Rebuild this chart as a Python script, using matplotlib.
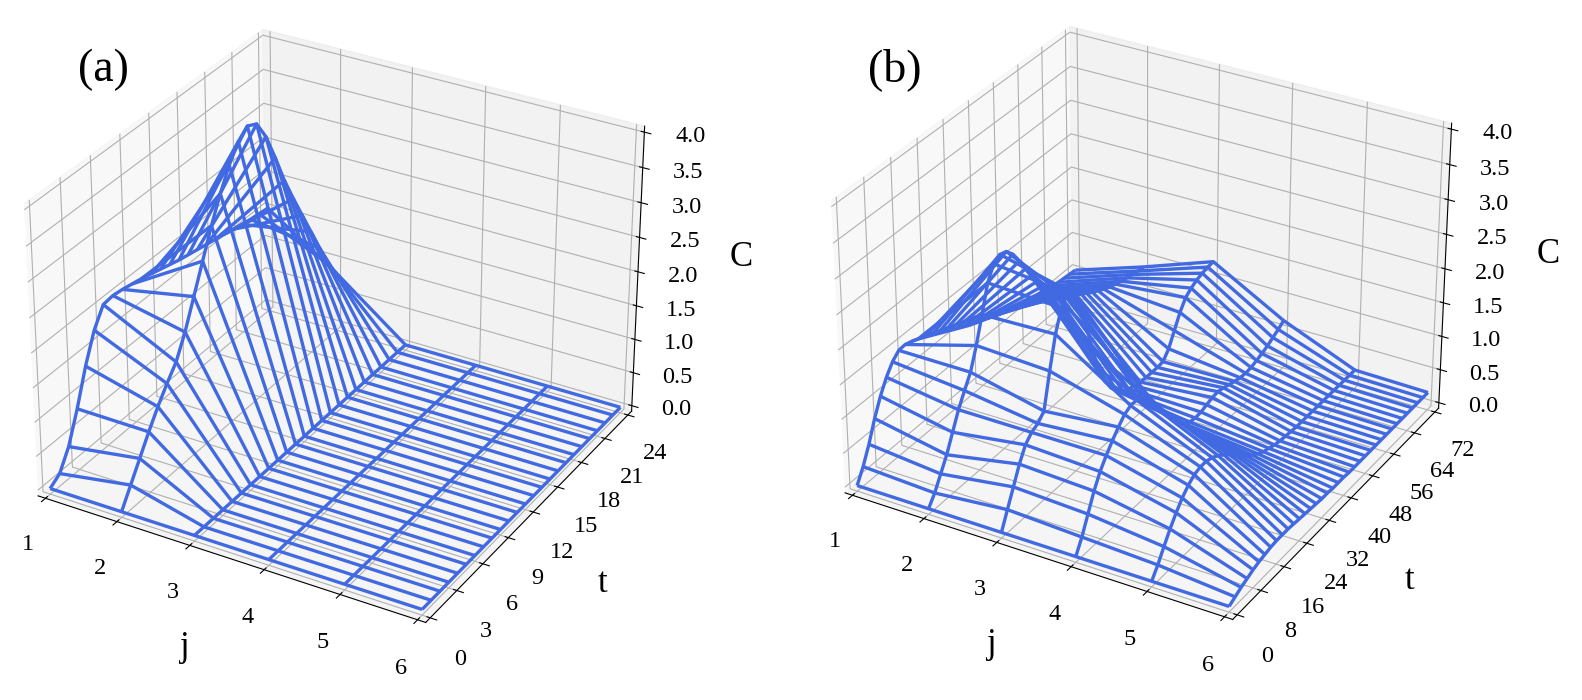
import numpy as np
import matplotlib
matplotlib.use("Agg")
import matplotlib.pyplot as plt
from matplotlib.ticker import FormatStrFormatter

plt.rcParams['font.family'] = ['Liberation Serif', 'DejaVu Serif']
plt.rcParams['axes3d.automargin'] = True

# ---------------- data ----------------
j_vals = [1, 2, 3, 4, 5, 6]

t_a = list(range(0, 25))  # 0..24
C_a_j1 = [0, 0.1, 0.38, 0.82, 1.33, 1.74, 2.0, 2.02, 2.0, 1.97, 1.94, 1.9, 1.86,
          1.82, 1.78, 1.75, 1.72, 1.69, 1.66, 1.63, 1.6, 1.57, 1.54, 1.52, 1.5]
C_a_j2 = [0, 0.27, 0.54, 0.81, 1.06, 1.28, 1.48, 1.8, 2.2, 2.6, 3.0, 3.35, 3.65,
          3.88, 4.0, 3.93, 3.65, 3.25, 2.82, 2.45, 2.1, 1.75, 1.4, 1.05, 0.8]
C_a_j3 = [0] * 25
C_a_j4 = [0] * 25
C_a_j5 = [0] * 25
C_a_j6 = [0] * 25

t_b = list(range(0, 73, 2))  # 0..72 step 2
C_b_j1 = [0, 0.2, 0.45, 0.75, 1.0, 1.2, 1.35, 1.44, 1.45, 1.42, 1.38, 1.33, 1.28,
          1.23, 1.18, 1.13, 1.08, 1.03, 0.98, 0.94, 0.9, 0.86, 0.82, 0.78, 0.75,
          0.72, 0.69, 0.66, 0.63, 0.61, 0.59, 0.57, 0.55, 0.53, 0.52, 0.51, 0.5]
C_b_j2 = [0, 0.15, 0.35, 0.55, 0.8, 1.05, 1.25, 1.44, 1.75, 2.12, 2.5, 2.7, 2.76,
          2.73, 2.62, 2.45, 2.27, 2.1, 1.95, 1.81, 1.69, 1.58, 1.48, 1.4, 1.32,
          1.25, 1.18, 1.12, 1.07, 1.02, 0.98, 0.95, 0.92, 0.9, 0.88, 0.86, 0.85]
C_b_j3 = [0, 0.25, 0.5, 0.75, 0.95, 1.05, 1.1, 1.2, 1.7, 2.15, 2.45, 2.58, 2.5,
          2.25, 1.88, 1.45, 1.1, 0.85, 0.68, 0.56, 0.48, 0.43, 0.4, 0.38, 0.37,
          0.37, 0.37, 0.38, 0.5, 0.7, 0.9, 1.05, 1.12, 1.17, 1.2, 1.22, 1.23]
C_b_j4 = [0, 0.2, 0.45, 0.7, 0.9, 1.05, 1.18, 1.3, 1.4, 1.45, 1.45, 1.4, 1.3,
          1.15, 1.0, 0.85, 0.7, 0.58, 0.48, 0.42, 0.4, 0.41, 0.44, 0.47, 0.48,
          0.46, 0.43, 0.4, 0.38, 0.37, 0.38, 0.41, 0.44, 0.48, 0.53, 0.58, 0.64]
C_b_j5 = [0, 0.15, 0.33, 0.5, 0.65, 0.78, 0.88, 0.95, 0.98, 0.98, 0.95, 0.9, 0.83,
          0.75, 0.66, 0.57, 0.49, 0.42, 0.36, 0.31, 0.28, 0.25, 0.23, 0.22, 0.21,
          0.2, 0.2, 0.2, 0.2, 0.2, 0.2, 0.2, 0.2, 0.2, 0.2, 0.2, 0.2]
C_b_j6 = [0, 0.05, 0.1, 0.14, 0.18, 0.21, 0.23, 0.25, 0.26, 0.26, 0.26, 0.25, 0.24,
          0.23, 0.22, 0.21, 0.2, 0.2, 0.19, 0.19, 0.19, 0.18, 0.18, 0.18, 0.18,
          0.18, 0.18, 0.18, 0.18, 0.18, 0.18, 0.18, 0.18, 0.18, 0.18, 0.18, 0.18]

t_ticks_a = [0, 3, 6, 9, 12, 15, 18, 21, 24]
t_ticks_b = [0, 8, 16, 24, 32, 40, 48, 56, 64, 72]
c_ticks = [0, 0.5, 1.0, 1.5, 2.0, 2.5, 3.0, 3.5, 4.0]

panels = [
    ("(a)", t_a, [C_a_j1, C_a_j2, C_a_j3, C_a_j4, C_a_j5, C_a_j6], t_ticks_a),
    ("(b)", t_b, [C_b_j1, C_b_j2, C_b_j3, C_b_j4, C_b_j5, C_b_j6], t_ticks_b),
]

# ---------------- figure ----------------
W, H = 1582, 700
fig = plt.figure(figsize=(W / 100, H / 100), dpi=100)

L = 690
positions = [(-14, -24), (793, -27)]  # left, top in pixels
letter_pos = [(103, 70), (895, 70)]

for (label, t_vals, C_rows, t_ticks), (lp, tp), (lx, ly) in zip(panels, positions, letter_pos):
    ax = fig.add_axes([lp / W, (H - (tp + L)) / H, L / W, L / H], projection='3d')
    J, T = np.meshgrid(np.array(j_vals, float), np.array(t_vals, float), indexing='ij')
    Z = np.array(C_rows, float)
    ax.plot_wireframe(J, T, Z, color='#4169E1', linewidth=2.4)
    ax.set_xlim(1, 6)
    ax.set_ylim(t_vals[0], t_vals[-1])
    ax.set_zlim(0, 4)
    ax.set_xticks(j_vals)
    ax.set_yticks(t_ticks)
    ax.set_zticks(c_ticks)
    ax.zaxis.set_major_formatter(FormatStrFormatter('%.1f'))
    ax.tick_params(labelsize=17.5)
    ax.xaxis.set_tick_params(pad=11)
    ax.yaxis.set_tick_params(pad=11)
    ax.zaxis.set_tick_params(pad=12)
    ax.set_xlabel('j', fontsize=25, labelpad=25)
    ax.set_ylabel('t', fontsize=25, labelpad=25)
    ax.set_zlabel('C', fontsize=25, labelpad=25)
    fig.text(lx / W, 1 - ly / H, label, fontsize=33, ha='center', va='center')

fig.savefig('out.png', dpi=100)
